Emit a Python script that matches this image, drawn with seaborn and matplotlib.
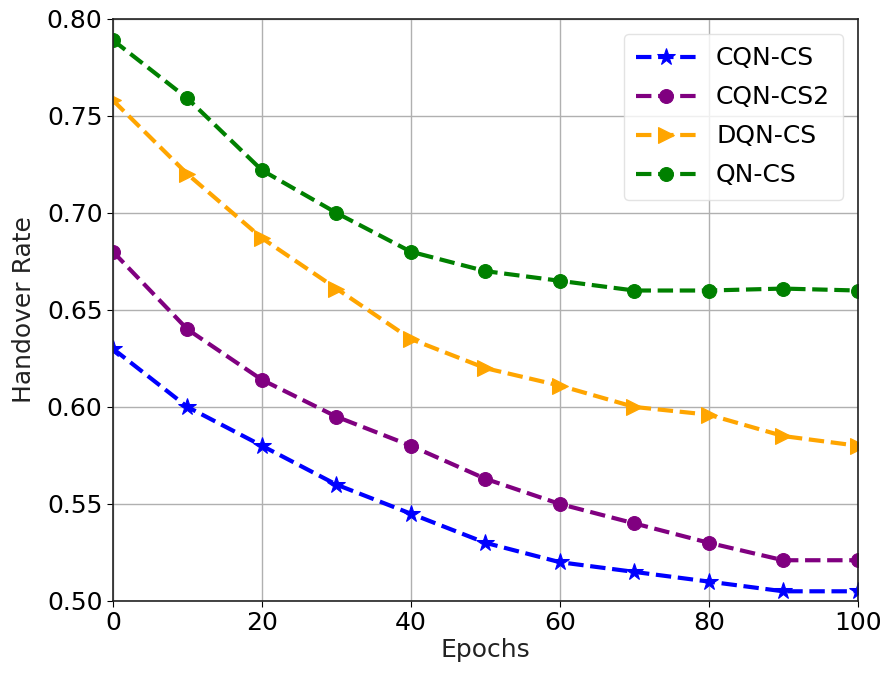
import matplotlib
matplotlib.use("Agg")
import matplotlib.pyplot as plt
import seaborn as sns
import pandas as pd

epochs = [0, 10, 20, 30, 40, 50, 60, 70, 80, 90, 100]
cqn_cs = [0.630, 0.600, 0.580, 0.560, 0.545, 0.530, 0.520, 0.515, 0.510, 0.505, 0.505]
cqn_cs2 = [0.680, 0.640, 0.614, 0.595, 0.580, 0.563, 0.550, 0.540, 0.530, 0.521, 0.521]
dqn_cs = [0.758, 0.720, 0.687, 0.661, 0.635, 0.620, 0.611, 0.600, 0.596, 0.585, 0.580]
qn_cs = [0.789, 0.759, 0.722, 0.700, 0.680, 0.670, 0.665, 0.660, 0.660, 0.661, 0.660]

series = [
    ("CQN-CS", cqn_cs, "blue", "*", 13),
    ("CQN-CS2", cqn_cs2, "purple", "o", 10),
    ("DQN-CS", dqn_cs, "orange", ">", 11),
    ("QN-CS", qn_cs, "green", "o", 10),
]

sns.set_style("ticks", {"axes.edgecolor": "#222222", "text.color": "black",
                        "xtick.color": "black", "ytick.color": "black",
                        "axes.labelcolor": "#222222"})
plt.rcParams['font.family'] = ['DejaVu Sans']

fig = plt.figure(figsize=(8.86, 6.73), dpi=100)
ax = fig.add_axes([0.1275, 0.107, 0.8405, 0.865])

for name, vals, color, marker, ms in series:
    df = pd.DataFrame({"Epochs": epochs, "Rate": vals})
    sns.lineplot(data=df, x="Epochs", y="Rate", ax=ax, color=color, marker=marker,
                 markersize=ms, linestyle="--", linewidth=3, label=name,
                 markeredgecolor=color)

ax.set_xlim(0, 100)
ax.set_ylim(0.50, 0.80)
ax.set_xticks([0, 20, 40, 60, 80, 100])
ax.set_yticks([0.50, 0.55, 0.60, 0.65, 0.70, 0.75, 0.80])
ax.set_yticklabels(["0.50", "0.55", "0.60", "0.65", "0.70", "0.75", "0.80"])
ax.tick_params(labelsize=18, direction="out", length=4)
ax.grid(True, color="#b0b0b0", linewidth=1)
ax.set_xlabel("Epochs", fontsize=18, labelpad=2)
ax.set_ylabel("Handover Rate", fontsize=18, labelpad=8)
for s in ax.spines.values():
    s.set_linewidth(1.2)
leg = ax.legend(loc="upper right", fontsize=18, frameon=True, fancybox=True,
                handlelength=2.4, labelspacing=0.6, borderaxespad=0.6,
                borderpad=0.5)
leg.get_frame().set_edgecolor("#dddddd")

fig.savefig("out.png", dpi=100)
